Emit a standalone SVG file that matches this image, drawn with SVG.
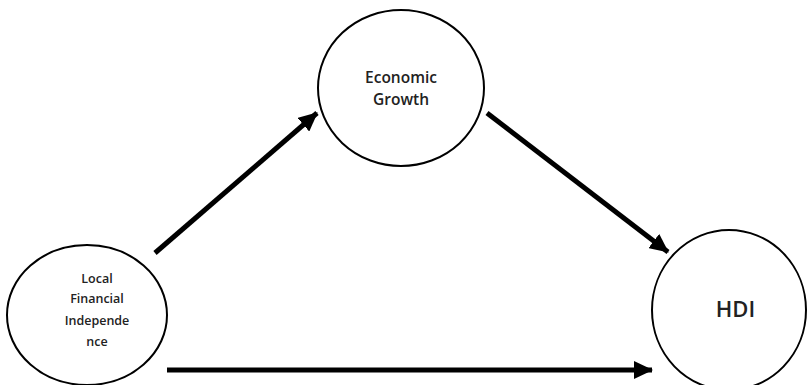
<svg xmlns="http://www.w3.org/2000/svg" width="808" height="385" viewBox="0 0 808 385">
<style>
.node{fill:#fff;stroke:#000;stroke-width:2}
.lbl{font-family:"Open Sans","Liberation Sans",sans-serif;font-weight:600;fill:#222;text-anchor:middle}
.conn{stroke:#000;stroke-width:5;fill:none;marker-end:url(#ah)}
</style>
<defs>
<marker id="ah" markerUnits="userSpaceOnUse" markerWidth="20" markerHeight="18" refX="18" refY="9" orient="auto">
<path d="M0,0 L19,9 L0,18 Z" fill="#000"/>
</marker>
</defs>
<rect width="808" height="385" fill="#fff"/>
<g id="connectors">
<line class="conn" x1="155" y1="253" x2="317" y2="113"/>
<line class="conn" x1="487" y1="113" x2="668" y2="252"/>
<line class="conn" x1="167" y1="370" x2="652" y2="370"/>
</g>
<g id="economic-growth">
<ellipse class="node" cx="401" cy="88" rx="83" ry="78"/>
<text class="lbl" x="401" y="82.5" font-size="15.5">Economic</text>
<text class="lbl" x="401" y="104.5" font-size="15.5">Growth</text>
</g>
<g id="local-financial-independence">
<ellipse class="node" cx="87" cy="315" rx="80" ry="70"/>
<text class="lbl" x="97" y="282.5" font-size="12.5">Local</text>
<text class="lbl" x="97" y="303" font-size="12.5">Financial</text>
<text class="lbl" x="97" y="324.5" font-size="12.5">Independe</text>
<text class="lbl" x="97" y="346" font-size="12.5">nce</text>
</g>
<g id="hdi">
<ellipse class="node" cx="729" cy="310" rx="77" ry="80"/>
<text class="lbl" x="735.5" y="317" font-size="22" font-weight="700">HDI</text>
</g>
</svg>
